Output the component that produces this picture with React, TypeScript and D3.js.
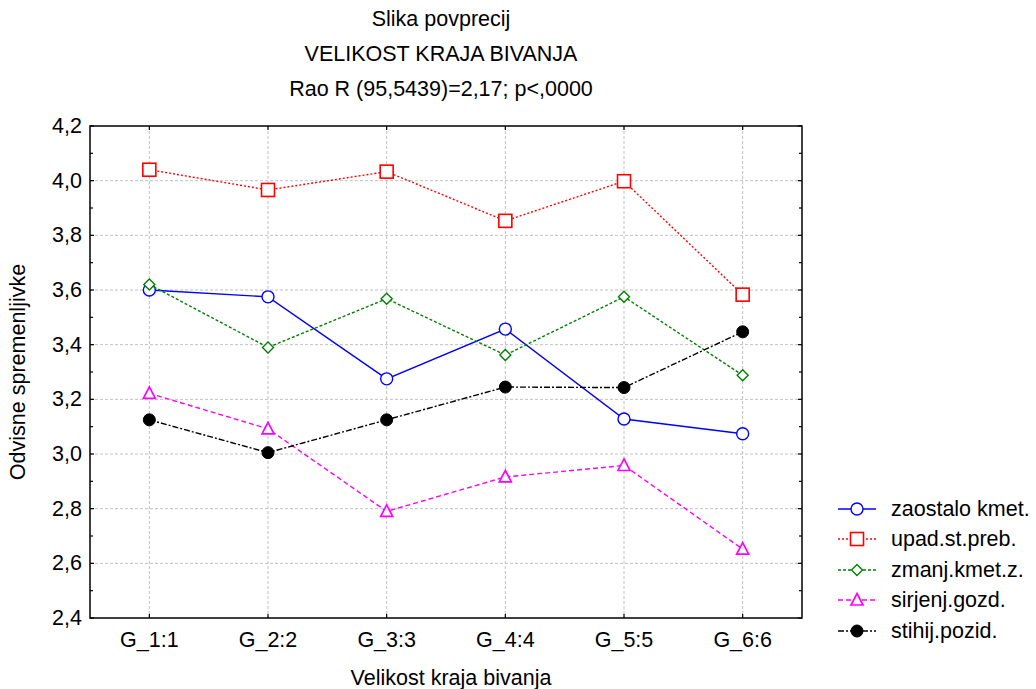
import React from "react";
import * as d3 from "d3";

const categories = ["G_1:1", "G_2:2", "G_3:3", "G_4:4", "G_5:5", "G_6:6"];
const zaostalo = [3.6, 3.575, 3.275, 3.457, 3.128, 3.074];
const upad = [4.04, 3.966, 4.033, 3.853, 3.998, 3.583];
const zmanj = [3.62, 3.39, 3.568, 3.362, 3.575, 3.288];
const sirjenj = [3.222, 3.092, 2.79, 2.916, 2.958, 2.652];
const stihij = [3.125, 3.005, 3.125, 3.245, 3.243, 3.447];
const yTicks = [2.4, 2.6, 2.8, 3.0, 3.2, 3.4, 3.6, 3.8, 4.0, 4.2];

const seriesNames = ["zaostalo kmet.", "upad.st.preb.", "zmanj.kmet.z.", "sirjenj.gozd.", "stihij.pozid."];
const seriesValues = [zaostalo, upad, zmanj, sirjenj, stihij];
const colors = ["#0000ff", "#ff0000", "#008000", "#ff00ff", "#000000"];
const dashes = ["none", "2,2", "3,2", "5,3", "6,2,2,2"];
const markers = ["circle", "square", "diamond", "triangle", "dot"];

const L = 90, R = 802, T = 126, B = 618;
const font = "'Liberation Sans', Arial, sans-serif";
const FS = 21.5;

function Marker({ type, x, y, color }: { type: string; x: number; y: number; color: string }) {
  if (type === "circle")
    return <circle cx={x} cy={y} r={6} fill="#fff" stroke={color} strokeWidth={1.4} />;
  if (type === "dot") return <circle cx={x} cy={y} r={6} fill={color} stroke={color} />;
  if (type === "square")
    return <rect x={x - 6.5} y={y - 6.5} width={13} height={13} fill="#fff" stroke={color} strokeWidth={1.6} />;
  if (type === "diamond")
    return (
      <path d={`M${x},${y - 5.5}L${x + 5.5},${y}L${x},${y + 5.5}L${x - 5.5},${y}Z`} fill="#fff" stroke={color} strokeWidth={1.4} />
    );
  return (
    <path d={`M${x},${y - 6.5}L${x + 6},${y + 5}L${x - 6},${y + 5}Z`} fill="#fff" stroke={color} strokeWidth={1.7} />
  );
}

export default function App() {
  const x = d3.scalePoint<string>().domain(categories).range([L, R]).padding(0.5);
  const y = d3.scaleLinear().domain([2.4, 4.2]).range([B, T]);
  const line = d3
    .line<number>()
    .x((_, i) => x(categories[i]) as number)
    .y((d) => y(d));
  const minor = d3.range(2.5, 4.2, 0.2);
  const fmt = (v: number) => v.toFixed(1).replace(".", ",");
  const legendY = [509, 539, 570, 600, 631];

  return (
    <svg width={1036} height={689} style={{ position: "absolute", left: 0, top: 0, background: "#fff" }} fontFamily={font}>
      <rect width={1036} height={689} fill="#fff" />
      <g fontSize={FS} textAnchor="middle" fill="#000">
        <text x={441} y={26}>Slika povprecij</text>
        <text x={441} y={61}>VELIKOST KRAJA BIVANJA</text>
        <text x={441} y={96}>Rao R (95,5439)=2,17; p&lt;,0000</text>
      </g>
      {/* grid */}
      <g stroke="#c0c0c0" strokeDasharray="3,2" strokeWidth={1}>
        {yTicks.slice(1, -1).map((t) => (
          <line key={t} x1={L} x2={R} y1={y(t)} y2={y(t)} />
        ))}
        {categories.map((c) => (
          <line key={c} x1={x(c)} x2={x(c)} y1={T} y2={B} />
        ))}
      </g>
      {/* frame */}
      <rect x={L} y={T} width={R - L} height={B - T} fill="none" stroke="#000" strokeWidth={1.5} />
      {/* ticks */}
      <g stroke="#000" strokeWidth={1.2}>
        {yTicks.map((t) => (
          <g key={t}>
            <line x1={L} x2={L + 4} y1={y(t)} y2={y(t)} />
            <line x1={R} x2={R - 4} y1={y(t)} y2={y(t)} />
          </g>
        ))}
        {minor.map((t) => (
          <g key={t}>
            <line x1={L} x2={L + 3} y1={y(t)} y2={y(t)} />
            <line x1={R} x2={R - 3} y1={y(t)} y2={y(t)} />
          </g>
        ))}
        {categories.map((c) => (
          <g key={c}>
            <line x1={x(c)} x2={x(c)} y1={B} y2={B - 4} />
            <line x1={x(c)} x2={x(c)} y1={T} y2={T + 4} />
          </g>
        ))}
      </g>
      <g fontSize={FS} fill="#000">
        {yTicks.map((t) => (
          <text key={t} x={L - 8} y={y(t) + 7} textAnchor="end">
            {fmt(t)}
          </text>
        ))}
        {categories.map((c) => (
          <text key={c} x={x(c)} y={647} textAnchor="middle">
            {c}
          </text>
        ))}
        <text x={451} y={685} textAnchor="middle">Velikost kraja bivanja</text>
        <text transform={`translate(25,${(T + B) / 2}) rotate(-90)`} textAnchor="middle">
          Odvisne spremenljivke
        </text>
      </g>
      {/* series */}
      {seriesValues.map((vals, si) => (
        <g key={si}>
          <path d={line(vals) as string} fill="none" stroke={colors[si]} strokeWidth={1.4} strokeDasharray={dashes[si]} />
          {vals.map((v, i) => (
            <Marker key={i} type={markers[si]} x={x(categories[i]) as number} y={y(v)} color={colors[si]} />
          ))}
        </g>
      ))}
      {/* legend */}
      {seriesNames.map((n, si) => (
        <g key={n}>
          <line x1={838} x2={876} y1={legendY[si]} y2={legendY[si]} stroke={colors[si]} strokeWidth={1.4} strokeDasharray={dashes[si]} />
          <Marker type={markers[si]} x={857} y={legendY[si]} color={colors[si]} />
          <text x={891} y={legendY[si] + 7} fontSize={FS} fill="#000">
            {n}
          </text>
        </g>
      ))}
    </svg>
  );
}
